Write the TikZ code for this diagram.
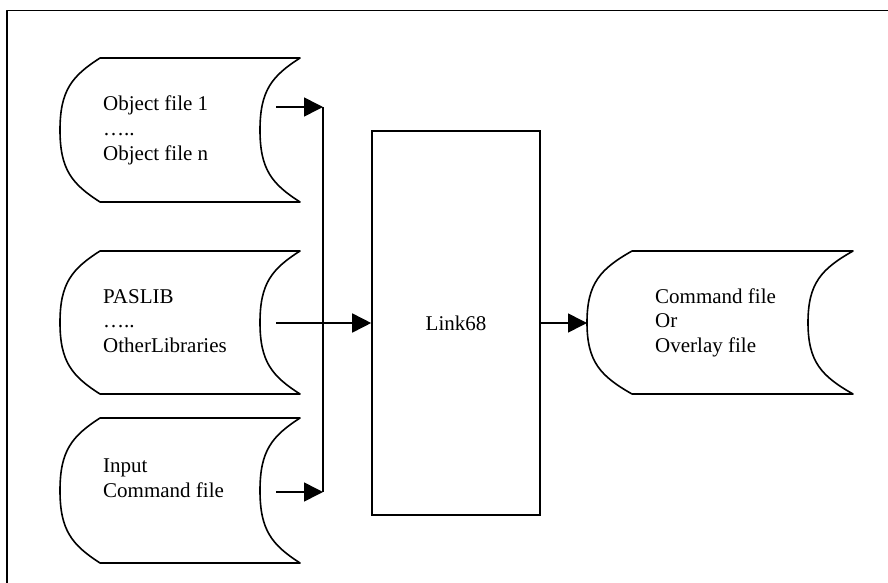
\documentclass[tikz,border=0pt]{standalone}
\usepackage{fontspec}
\setmainfont{Liberation Serif}
\usetikzlibrary{arrows.meta}

\tikzset{
  outline/.style={line width=1.6pt, line join=round},
  flow/.style={line width=1.6pt, -{Triangle[length=19pt,width=19pt]}},
  filetext/.style={align=left, inner sep=0pt, anchor=base west,
    font=\fontsize{21}{24.5}\selectfont},
  process/.style={draw, line width=1.6pt, minimum width=168pt,
    minimum height=384pt, inner sep=0pt, font=\fontsize{21}{24.5}\selectfont},
}

% Stored-data symbol: left x, top y, right x, bottom y, bulge of the side arcs
\newcommand{\storeddata}[5]{%
  \pgfmathsetmacro\sdh{(#4-#2)/2}%
  \pgfmathsetmacro\sdb{#5}%
  \draw[outline] (#1,#2) -- (#3,#2)
    .. controls +(-0.7*\sdb,0.25*\sdh) and +(0,-0.55*\sdh) .. ++(-\sdb,\sdh)
    .. controls +(0,0.55*\sdh) and +(-0.7*\sdb,-0.25*\sdh) .. ++(\sdb,\sdh)
    -- (#1,#4)
    .. controls +(-0.7*\sdb,-0.25*\sdh) and +(0,0.55*\sdh) .. ++(-\sdb,-\sdh)
    .. controls +(0,-0.55*\sdh) and +(-0.7*\sdb,0.25*\sdh) .. (#1,#2) -- cycle;
}

\begin{document}
\begin{tikzpicture}[x=1pt, y=-1pt]
  \useasboundingbox (0,0) rectangle (888,583);

  % page frame (left and top edges)
  \draw[outline] (7,583) -- (7,10.5) -- (888,10.5);

  % input files
  \storeddata{100}{58}{300}{202}{40}
  \storeddata{100}{251}{300}{394}{40}
  \storeddata{100}{418}{300}{563}{40}
  % output file
  \storeddata{632}{251}{853}{394}{45}

  % text nodes are anchored at the baseline of their last line
  \node[filetext] (objfiles) at (103,160) {Object file 1\\…..\\Object file n};
  \node[filetext] (libs) at (103,352) {PASLIB\\…..\\OtherLibraries};
  \node[filetext] (cmdin) at (103,497) {Input\\Command file};
  \node[filetext] (result) at (655,352) {Command file\\Or\\Overlay file};

  % linker
  \node[process] (link) at (456,323) {Link68};

  % connector points
  \coordinate (objout) at (276,107);
  \coordinate (libout) at (276,323);
  \coordinate (cmdout) at (276,492);
  \coordinate (jtop) at (323,107);
  \coordinate (jbot) at (323,492);
  \coordinate (resin) at (587,323);

  \draw[flow] (objout) -- (jtop);
  \draw[flow] (cmdout) -- (jbot);
  \draw[outline] (jtop) -- (jbot);
  \draw[flow] (libout) -- (link.west);
  \draw[flow] (link.east) -- (resin);
\end{tikzpicture}
\end{document}
